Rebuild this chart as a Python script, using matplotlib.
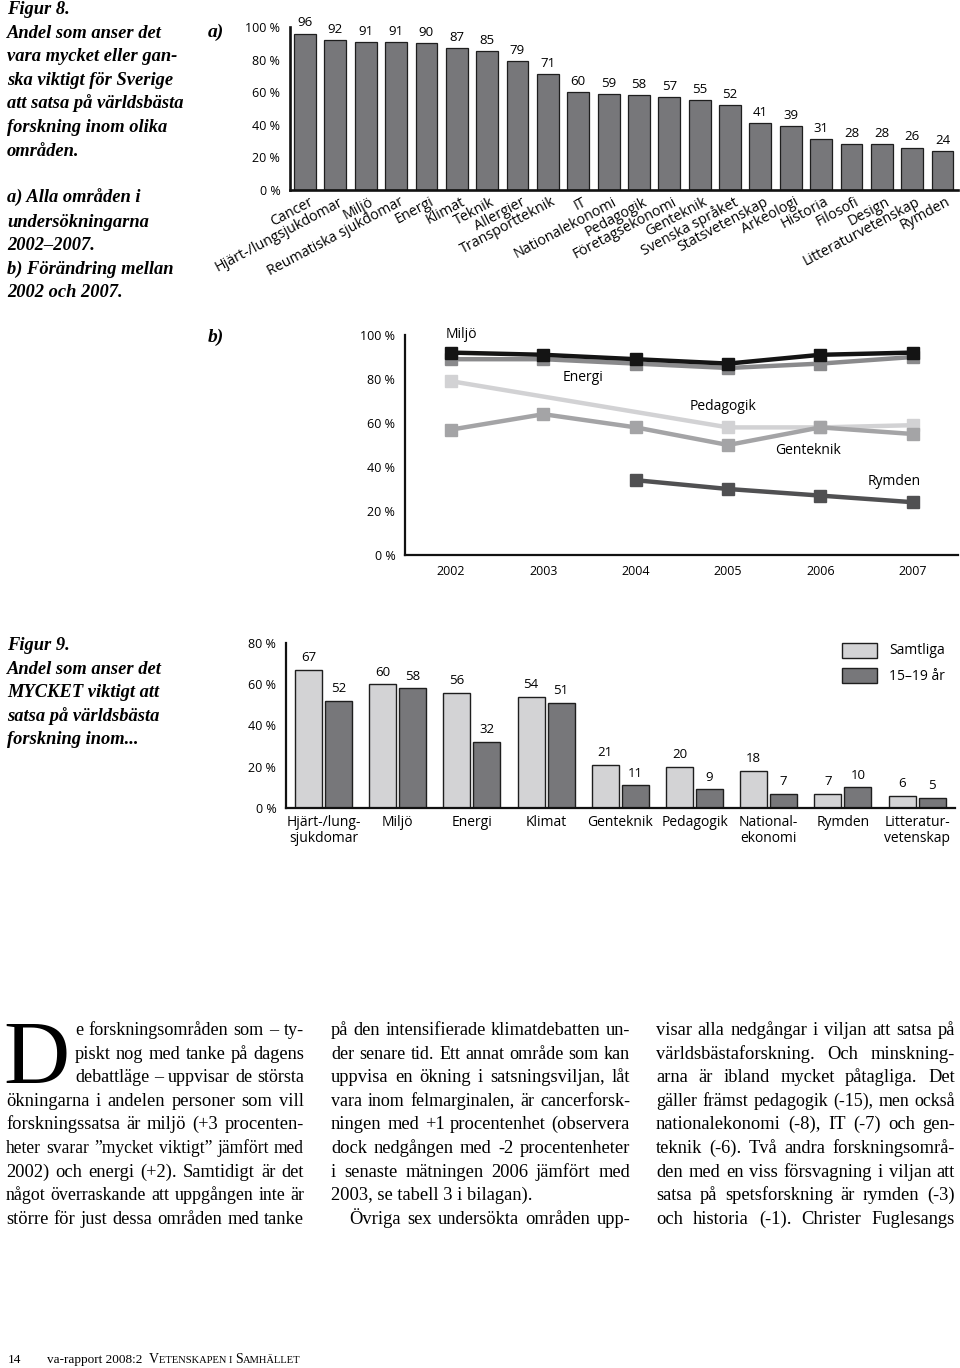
import matplotlib
matplotlib.use('Agg')
import matplotlib.pyplot as plt
from matplotlib.patches import Rectangle

W, H = 960, 1368

# ---------------- data ----------------
cats_a = ["Cancer", "Hjärt-/lungsjukdomar", "Miljö", "Reumatiska sjukdomar", "Energi",
          "Klimat", "Teknik", "Allergier", "Transportteknik", "IT", "Nationalekonomi",
          "Pedagogik", "Företagsekonomi", "Genteknik", "Svenska språket", "Statsvetenskap",
          "Arkeologi", "Historia", "Filosofi", "Design", "Litteraturvetenskap", "Rymden"]
vals_a = [96, 92, 91, 91, 90, 87, 85, 79, 71, 60, 59, 58, 57, 55, 52, 41, 39, 31, 28, 28, 26, 24]
yticks_a = [0, 20, 40, 60, 80, 100]

years_b = [2002, 2003, 2004, 2005, 2006, 2007]
miljo_b = [92, 91, 89, 87, 91, 92]
energi_b = [89, 89, 87, 85, 87, 90]
ped_years = [2002, 2005, 2006, 2007]
ped_b = [79, 58, 58, 59]
gen_b = [57, 64, 58, 50, 58, 55]
rym_years = [2004, 2005, 2006, 2007]
rym_b = [34, 30, 27, 24]

cats_9 = ["Hjärt-/lung-\nsjukdomar", "Miljö", "Energi", "Klimat", "Genteknik",
          "Pedagogik", "National-\nekonomi", "Rymden", "Litteratur-\nvetenskap"]
samtliga_9 = [67, 60, 56, 54, 21, 20, 18, 7, 6]
unga_9 = [52, 58, 32, 51, 11, 9, 7, 10, 5]
yticks_9 = [0, 20, 40, 60, 80]

SANS = 'Open Sans'
SERIF = 'Liberation Serif'

fig = plt.figure(figsize=(W / 100, H / 100), dpi=100)
renderer = fig.canvas.get_renderer()


def ax_rect(x0, y0, x1, y1):
    return [x0 / W, 1 - y1 / H, (x1 - x0) / W, (y1 - y0) / H]


def T(x, y, s, **kw):
    return fig.text(x / W, 1 - y / H, s, **kw)


def pct(v):
    return f"{v} %"


def style_axes(ax, lw):
    for s in ['top', 'right']:
        ax.spines[s].set_visible(False)
    for s in ['left', 'bottom']:
        ax.spines[s].set_linewidth(lw)
        ax.spines[s].set_color('#111111')
    ax.tick_params(length=0)


# ---------------- chart a ----------------
ax = fig.add_axes(ax_rect(290, 27, 958, 190))
xs = list(range(len(cats_a)))
ax.bar(xs, vals_a, width=0.72, color='#77777a', edgecolor='#1e1e1e', linewidth=0.9)
ax.set_xlim(-0.494, len(cats_a) - 0.49)
ax.set_ylim(0, 100)
style_axes(ax, 1.9)
ax.set_yticks(yticks_a)
ax.set_yticklabels([pct(v) for v in yticks_a], fontsize=9, family=SANS)
ax.tick_params(axis='y', pad=7)
ax.set_xticks([])
for i, (c, v) in enumerate(zip(cats_a, vals_a)):
    ax.annotate(str(v), xy=(i, v), xytext=(0, 3), textcoords='offset points',
                ha='center', va='bottom', fontsize=9.5, family=SANS, annotation_clip=False)
    ax.annotate(c, xy=(i, 0), xycoords=('data', 'axes fraction'), xytext=(5, -8),
                textcoords='offset points', rotation=28, rotation_mode='anchor',
                ha='right', va='center', fontsize=10.3, family=SANS, annotation_clip=False)

# ---------------- chart b ----------------
axb = fig.add_axes(ax_rect(405, 335, 958, 555))
axb.set_xlim(2001.5, 2007.49)
axb.set_ylim(0, 100)
style_axes(axb, 1.6)
lw, ms = 3.2, 9
axb.plot(ped_years, ped_b, color='#d2d2d4', lw=lw, marker='s', ms=ms, zorder=2)
axb.plot(years_b, gen_b, color='#a4a4a6', lw=lw, marker='s', ms=ms, zorder=3)
axb.plot(rym_years, rym_b, color='#505052', lw=lw, marker='s', ms=ms, zorder=3)
axb.plot(years_b, energi_b, color='#8a8a8c', lw=lw, marker='s', ms=ms, zorder=4)
axb.plot(years_b, miljo_b, color='#141414', lw=lw, marker='s', ms=ms, zorder=5)
axb.set_yticks(yticks_a)
axb.set_yticklabels([pct(v) for v in yticks_a], fontsize=9, family=SANS)
axb.set_xticks(years_b)
axb.set_xticklabels([str(y) for y in years_b], fontsize=9, family=SANS)
axb.tick_params(axis='y', pad=7)
axb.tick_params(axis='x', pad=7)
lab_kw = dict(fontsize=10, family=SANS, va='center')
axb.text(2001.94, 100, "Miljö", ha='left', **lab_kw)
axb.text(2003.43, 80.5, "Energi", ha='center', **lab_kw)
axb.text(2004.94, 67.7, "Pedagogik", ha='center', **lab_kw)
axb.text(2005.87, 47.7, "Genteknik", ha='center', **lab_kw)
axb.text(2006.8, 33.6, "Rymden", ha='center', **lab_kw)

# ---------------- chart 9 ----------------
axc = fig.add_axes(ax_rect(286, 643, 955, 808))
x9 = list(range(len(cats_9)))
off, bw = 0.202, 0.364
axc.bar([x - off for x in x9], samtliga_9, width=bw, color='#d3d3d5', edgecolor='#1e1e1e', linewidth=1.0)
axc.bar([x + off for x in x9], unga_9, width=bw, color='#77777a', edgecolor='#1e1e1e', linewidth=1.0)
axc.set_xlim(-0.505, 8.51)
axc.set_ylim(0, 80)
style_axes(axc, 1.6)
axc.set_yticks(yticks_9)
axc.set_yticklabels([pct(v) for v in yticks_9], fontsize=9, family=SANS)
axc.tick_params(axis='y', pad=7)
axc.set_xticks(x9)
axc.set_xticklabels(cats_9, fontsize=10, family=SANS, linespacing=1.1)
axc.tick_params(axis='x', pad=5)
for x, a, b in zip(x9, samtliga_9, unga_9):
    axc.annotate(str(a), xy=(x - off, a), xytext=(0, 4), textcoords='offset points',
                 ha='center', va='bottom', fontsize=9.5, family=SANS, annotation_clip=False)
    axc.annotate(str(b), xy=(x + off, b), xytext=(0, 4), textcoords='offset points',
                 ha='center', va='bottom', fontsize=9.5, family=SANS, annotation_clip=False)

# legend (manual)
for (y0, col, lab) in [(643, '#d3d3d5', 'Samtliga'), (668, '#77777a', '15–19 år')]:
    fig.patches.append(Rectangle((842 / W, 1 - (y0 + 15) / H), 35 / W, 15 / H,
                                 transform=fig.transFigure, facecolor=col,
                                 edgecolor='#1e1e1e', linewidth=1.0))
    T(889, y0 + 8, lab, fontsize=10, family=SANS, va='center', ha='left')

# ---------------- captions ----------------
cap_kw = dict(family=SERIF, weight='bold', style='italic', fontsize=13.3, va='baseline')
cap8 = ["Figur 8.", "Andel som anser det", "vara mycket eller gan-", "ska viktigt för Sverige",
        "att satsa på världsbästa", "forskning inom olika", "områden."]
for k, s in enumerate(cap8):
    T(7, 14 + k * 23.6, s, **cap_kw)
cap8b = ["a) Alla områden i", "undersökningarna", "2002–2007.", "b) Förändring mellan", "2002 och 2007."]
for k, s in enumerate(cap8b):
    T(7, 203 + k * 23.6, s, **cap_kw)
T(208, 37, "a)", family=SERIF, weight='bold', style='italic', fontsize=14, va='baseline')
T(208, 342, "b)", family=SERIF, weight='bold', style='italic', fontsize=14, va='baseline')
cap9 = ["Figur 9.", "Andel som anser det", "MYCKET viktigt att", "satsa på världsbästa",
        "forskning inom..."]
for k, s in enumerate(cap9):
    T(7, 650 + k * 23.6, s, **cap_kw)

# ---------------- body text ----------------
col1 = ["e forskningsområden som – ty-", "piskt nog med tanke på dagens",
        "debattläge – uppvisar de största", "ökningarna i andelen personer som vill",
        "forskningssatsa är miljö (+3 procenten-", "heter svarar ”mycket viktigt” jämfört med",
        "2002) och energi (+2). Samtidigt är det", "något överraskande att uppgången inte är",
        "större för just dessa områden med tanke"]
col2 = ["på den intensifierade klimatdebatten un-", "der senare tid. Ett annat område som kan",
        "uppvisa en ökning i satsningsviljan, låt", "vara inom felmarginalen, är cancerforsk-",
        "ningen med +1 procentenhet (observera", "dock nedgången med -2 procentenheter",
        "i senaste mätningen 2006 jämfört med", "2003, se tabell 3 i bilagan).",
        "Övriga sex undersökta områden upp-"]
col3 = ["visar alla nedgångar i viljan att satsa på", "världsbästaforskning. Och minskning-",
        "arna är ibland mycket påtagliga. Det", "gäller främst pedagogik (-15), men också",
        "nationalekonomi (-8), IT (-7) och gen-", "teknik (-6). Två andra forskningsområ-",
        "den med en viss försvagning i viljan att", "satsa på spetsforskning är rymden (-3)",
        "och historia (-1). Christer Fuglesangs"]


def width_of(s, **kw):
    t = fig.text(0, 0, s, **kw)
    w = t.get_window_extent(renderer).width
    t.remove()
    return w


lines = []
for k, s in enumerate(col1):
    lines.append((s, 75 if k < 3 else 6, 304, True, k))
for k, s in enumerate(col2):
    lines.append((s, 349 if k == 8 else 331, 630, k != 7, k))
for k, s in enumerate(col3):
    lines.append((s, 656, 955, True, k))

FS_BODY = 13.3


def draw_line(s, x0, x1, ybase, justify=True):
    fs = FS_BODY
    nat = width_of(s, family=SERIF, fontsize=fs)
    if nat > (x1 - x0) * 0.99:
        fs = fs * (x1 - x0) * 0.99 / nat
    kw = dict(family=SERIF, fontsize=fs, va='baseline', ha='left')
    words = s.split()
    if not justify or len(words) < 2:
        T(x0, ybase, s, **kw)
        return
    ws = [width_of(w, **kw) for w in words]
    gap = (x1 - x0 - sum(ws)) / (len(words) - 1)
    x = x0
    for w, wd in zip(words, ws):
        T(x, ybase, w, **kw)
        x += wd + gap


base0, lh = 1035, 23.6
for s, x0, x1, j, k in lines:
    draw_line(s, x0, x1, base0 + k * lh, justify=j)

T(3, 1084, "D", family=SERIF, fontsize=66, va='baseline', ha='left')

# ---------------- footer ----------------
T(8, 1363, "14", family=SERIF, fontsize=9.5, va='baseline')


def runs(x, ybase, parts):
    for s, sz in parts:
        t = T(x, ybase, s, family=SERIF, fontsize=sz, va='baseline')
        x += t.get_window_extent(renderer).width


runs(47, 1363, [("va-rapport 2008:2  ", 9.5), ("V", 10), ("ETENSKAPEN I ", 7.6),
                ("S", 10), ("AMHÄLLET", 7.6)])

fig.savefig('out.png', dpi=100)
